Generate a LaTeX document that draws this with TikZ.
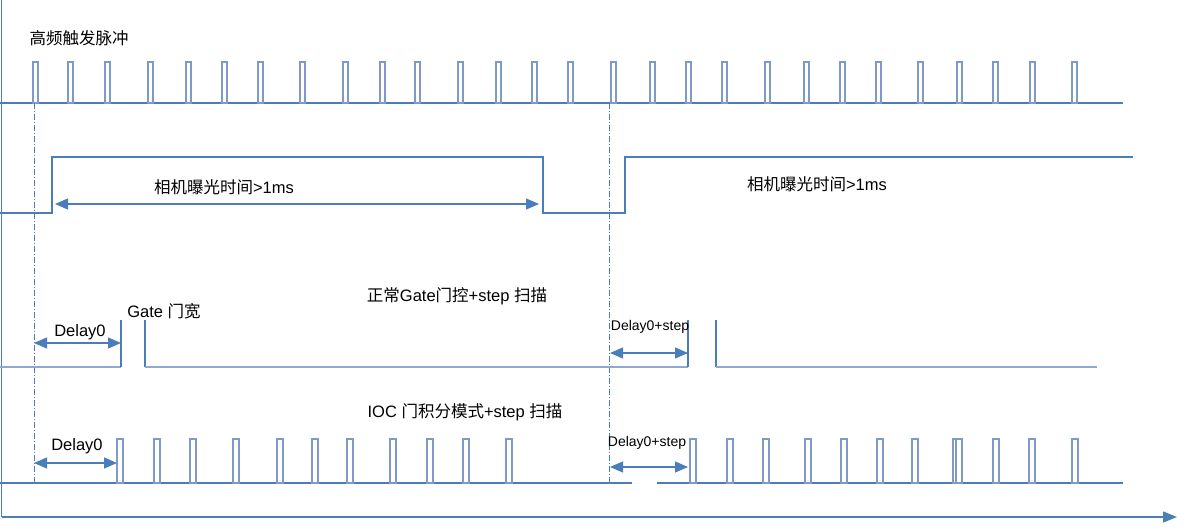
\documentclass[tikz,border=0pt]{standalone}
\usepackage{fontspec}
\setmainfont{Liberation Sans}
\newfontfamily\cjk{Noto Sans CJK SC}
\usetikzlibrary{arrows.meta}
\definecolor{lnblue}{HTML}{4A7EBB}
\definecolor{pulseblue}{HTML}{7F9AC7}
\definecolor{baseblue}{HTML}{8FA9D2}
\newcommand\zh[1]{{\cjk #1}}
\tikzset{
  wave/.style={draw=lnblue, line width=1.3pt},
  basew/.style={draw=baseblue, line width=2pt},
  pulse/.style={draw=pulseblue, line width=1.2pt, fill=white},
  markline/.style={draw=lnblue, line width=0.8pt, dash pattern=on 6pt off 2pt on 1pt off 2pt},
  dimarrow/.style={draw=lnblue, line width=1.1pt, {Triangle[length=13pt,width=11pt]}-{Triangle[length=13pt,width=11pt]}},
  axisline/.style={draw=lnblue, line width=1.3pt},
  lbl/.style={inner sep=0pt, font=\fontsize{16.5}{19}\selectfont},
  slbl/.style={inner sep=0pt, font=\fontsize{14}{16}\selectfont}
}
\begin{document}
\begin{tikzpicture}[x=1pt,y=-1pt]
\useasboundingbox[fill=white] (0,0) rectangle (1189,529);

% axes
\coordinate (yaxTop) at (1.5,0);
\coordinate (origin) at (1.5,517);
\coordinate (xaxEnd) at (1177,517);
\draw[axisline] (yaxTop) -- (origin);
\draw[axisline, -{Triangle[length=14pt,width=11pt]}] (origin) -- (xaxEnd);

% row 1: high-frequency trigger pulses
\node[lbl] (t1) at (79,38) {\zh{高频触发脉冲}};
\draw[wave] (0,103) -- (1123,103);
\foreach \x in {33,68,105,148,186,222,258,300,343,380,415,458,496,532,568,611,650,686,722,765,804,840,876,918,957,993,1030,1072}
  \draw[pulse] (\x,103) rectangle (\x+5,62);

% markers
\coordinate (m1a) at (34,103);
\coordinate (m1b) at (34,483);
\coordinate (m2a) at (609,103);
\coordinate (m2b) at (609,483);
\draw[markline] (m1a) -- (m1b);
\draw[markline] (m2a) -- (m2b);

% row 2: camera exposure
\draw[wave] (0,213) -- (52,213) -- (52,157) -- (543,157) -- (543,213) -- (625,213) -- (625,157) -- (1133,157);
\coordinate (e1) at (55,204);
\coordinate (e2) at (539,204);
\draw[dimarrow] (e1) -- (e2);
\node[lbl] (t2) at (224,187) {\zh{相机曝光时间}>1ms};
\node[lbl] (t3) at (817,184) {\zh{相机曝光时间}>1ms};

% row 3: normal gate
\node[lbl] (t4) at (457,296) {\zh{正常}Gate\zh{门控}+step \zh{扫描}};
\node[lbl] (t5) at (164,311) {Gate \zh{门宽}};
\draw[basew] (0,367) -- (121,367);
\draw[wave] (121,367) -- (121,320);
\draw[wave] (145,320) -- (145,367);
\draw[basew] (145,367) -- (688,367);
\draw[wave] (688,367) -- (688,320);
\draw[wave] (716,320) -- (716,367);
\draw[basew] (716,367) -- (1097,367);
\coordinate (d1a) at (34,343);
\coordinate (d1b) at (121,343);
\draw[dimarrow] (d1a) -- (d1b);
\node[lbl] (t6) at (80,332) {Delay0};
\coordinate (d2a) at (610,353);
\coordinate (d2b) at (688,353);
\draw[dimarrow] (d2a) -- (d2b);
\node[slbl] (t7) at (650,327) {Delay0+step};

% row 4: IOC mode
\node[lbl] (t8) at (465,412) {IOC \zh{门积分模式}+step \zh{扫描}};
\draw[wave] (0,483) -- (632,483);
\draw[wave] (657,483) -- (1123,483);
\foreach \x in {117,154,190,233,277,312,347,390,427,463,506,690,727,763,805,841,877,912,953,956,993,1029,1072}
  \draw[pulse] (\x,483) rectangle (\x+6,439);
\coordinate (d3a) at (34,463);
\coordinate (d3b) at (117,463);
\draw[dimarrow] (d3a) -- (d3b);
\node[lbl] (t9) at (77,446) {Delay0};
\coordinate (d4a) at (610,467);
\coordinate (d4b) at (688,467);
\draw[dimarrow] (d4a) -- (d4b);
\node[slbl] (t10) at (647,443) {Delay0+step};
\end{tikzpicture}
\end{document}
